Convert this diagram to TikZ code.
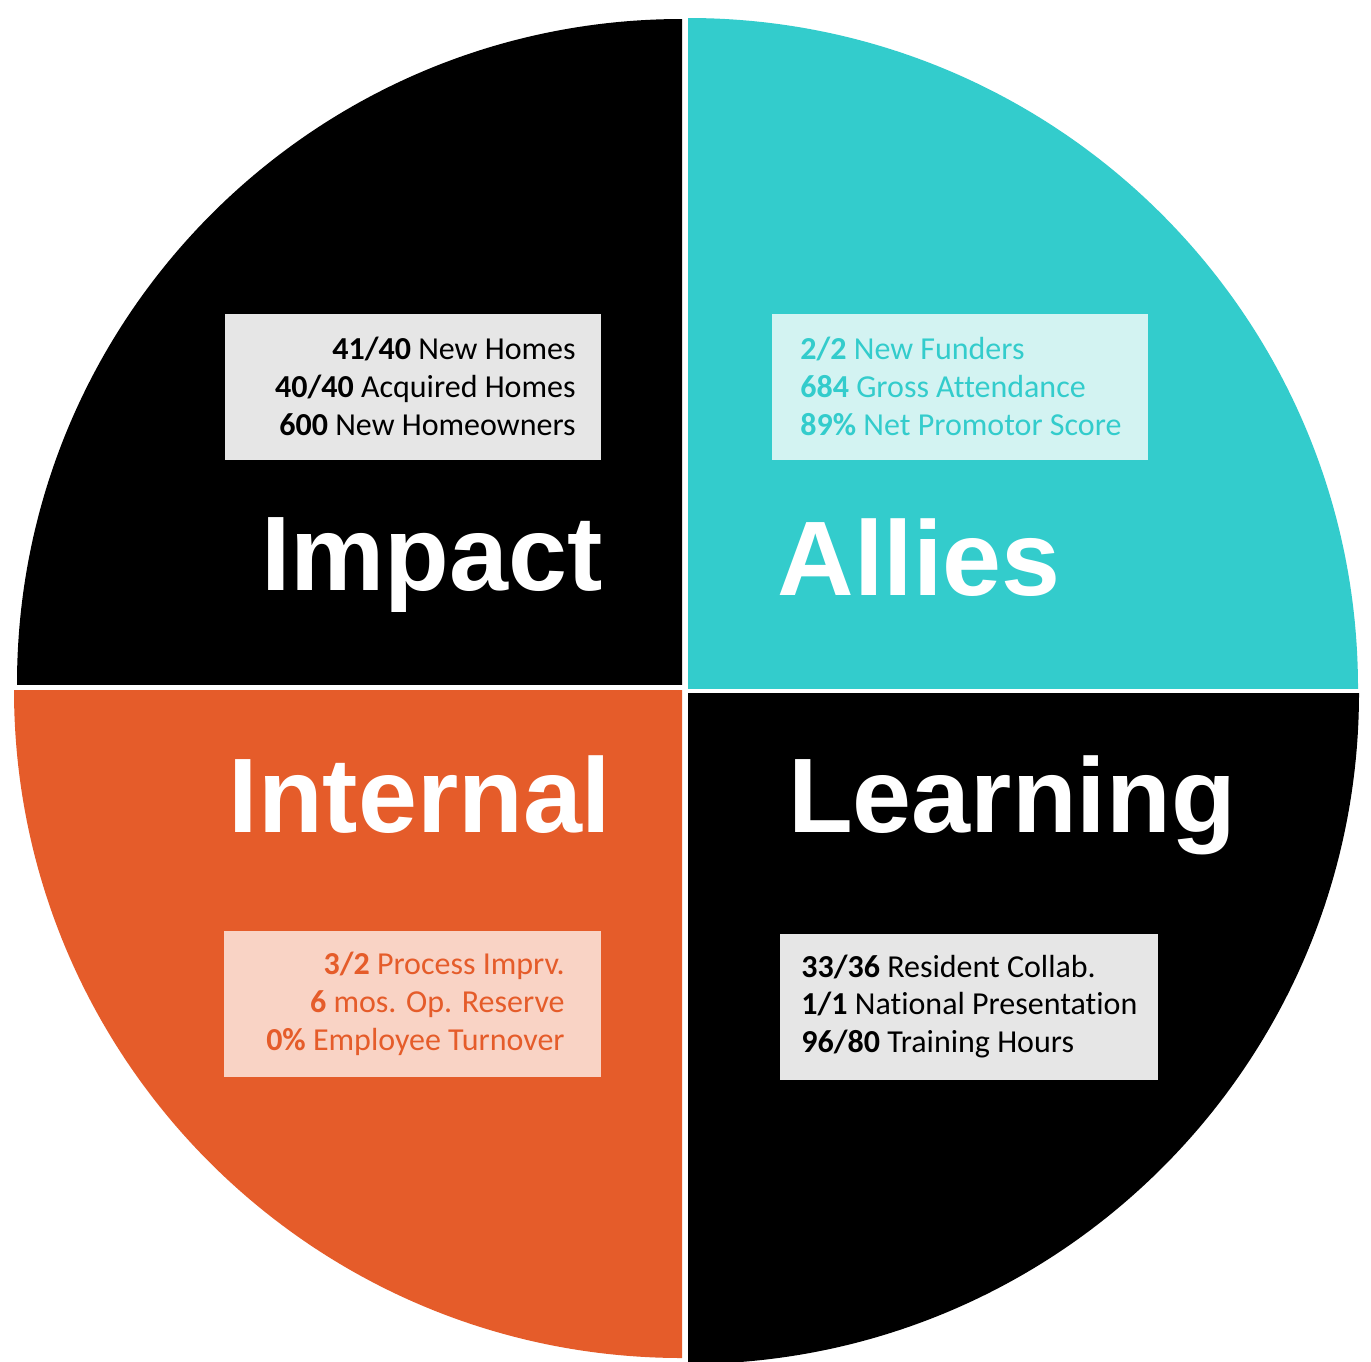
\documentclass[tikz,border=0pt]{standalone}
\usepackage{fontspec}
\newfontfamily\calfont[Ligatures=NoCommon]{Carlito}
\newfontfamily\arialfont{Liberation Sans}
\definecolor{teal1}{HTML}{33CCCC}
\definecolor{orange1}{HTML}{E55C2A}
\definecolor{lteal}{HTML}{D3F3F2}
\definecolor{lorange}{HTML}{F9D3C5}
\definecolor{lgrey}{HTML}{E6E6E6}
\tikzset{
  title/.style={font=\arialfont\bfseries\fontsize{53}{60}\selectfont, text=white, anchor=base, inner sep=0pt},
  stat/.style={font=\calfont\fontsize{16}{19}\selectfont, inner sep=0pt},
  statbox/.style={anchor=north west, inner sep=0pt, minimum width=188pt, minimum height=73pt}
}
\begin{document}
\begin{tikzpicture}[x=0.5pt,y=-0.5pt]
\useasboundingbox (0,0) rectangle (1371,1361);
\fill[white] (0,0) rectangle (1371,1361);
% quadrants
\begin{scope}
  \clip (0,0) rectangle (682,684);
  \fill[black] (682,684) circle[radius=665];
\end{scope}
\begin{scope}
  \clip (688,0) rectangle (1371,688);
  \fill[teal1] (688,688) circle[radius=670];
\end{scope}
\begin{scope}
  \clip (0,690) rectangle (682,1361);
  \fill[orange1] (682,690) circle[radius=668];
\end{scope}
\begin{scope}
  \clip (688,693) rectangle (1371,1361);
  \fill[black] (688,693) circle[radius=671];
\end{scope}
% boxes
\node[statbox, fill=lgrey] (tlbox) at (225,314) {};
\node[statbox, fill=lteal] (trbox) at (772,314) {};
\node[statbox, fill=lorange, minimum width=188.5pt] (blbox) at (224,931) {};
\node[statbox, fill=lgrey, minimum width=189pt] (brbox) at (780,934) {};
% TL text
\node[stat, anchor=base east, text=black] (tl1) at (576,359) {\textbf{41/40} New Homes};
\node[stat, anchor=base east, text=black] (tl2) at (576,397) {\textbf{40/40} Acquired Homes};
\node[stat, anchor=base east, text=black] (tl3) at (576,435) {\textbf{600} New Homeowners};
% TR text
\node[stat, anchor=base west, text=teal1] (tr1) at (800,359) {\textbf{2/2} New Funders};
\node[stat, anchor=base west, text=teal1] (tr2) at (800,397) {\textbf{684} Gross Attendance};
\node[stat, anchor=base west, text=teal1] (tr3) at (800,435) {\textbf{89\%} Net Promotor Score};
% BL text
\node[stat, anchor=base east, text=orange1] (bl1) at (565,974) {\textbf{3/2} Process Imprv.};
\node[stat, anchor=base east, text=orange1] (bl2) at (565,1012) {\textbf{6} mos. Op. Reserve};
\node[stat, anchor=base east, text=orange1] (bl3) at (565,1050) {\textbf{0\%} Employee Turnover};
% BR text
\node[stat, anchor=base west, text=black] (br1) at (801,977) {\textbf{33/36} Resident Collab.};
\node[stat, anchor=base west, text=black] (br2) at (801,1014) {\textbf{1/1} National Presentation};
\node[stat, anchor=base west, text=black] (br3) at (801,1052) {\textbf{96/80} Training Hours};
% titles
\node[title] (impact) at (432,590) {Impact};
\node[title] (allies) at (919,595) {Allies};
\node[title] (internal) at (420,832) {Internal};
\node[title] (learning) at (1012,832) {Learning};
\end{tikzpicture}
\end{document}
